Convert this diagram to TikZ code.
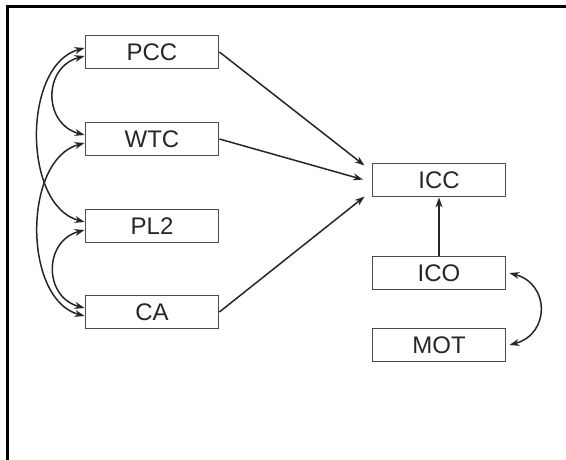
\documentclass[tikz,border=0pt]{standalone}
\usepackage{fontspec}
\setmainfont{Liberation Sans}
\usetikzlibrary{arrows.meta}

\begin{document}
\begin{tikzpicture}[x=1pt, y=-1pt, line width=1.5pt, >={Stealth[length=10pt,width=7pt]},
        every node/.append style={font=\fontsize{24}{28}\selectfont, text=black!85}]
      \tikzstyle{var} = [draw=black!70, line width=1.8pt, minimum width=133pt, minimum height=33pt, inner sep=0pt]
      \tikzstyle{link} = [draw=black!85, <->]
      \useasboundingbox (0,0) rectangle (566,460);
      \draw[line width=3pt] (7,460) -- (7,7) -- (566,7);
      % left column
      \node (PCC) [var] at (152,52) {PCC};
      \node (WTC) [var] at (152,139) {WTC};
      \node (PL2) [var] at (152,226) {PL2};
      \node (CA) [var] at (152,312) {CA};
      % right column
      \node (ICC) [var] at (439,180) {ICC};
      \node (ICO) [var] at (439,273) {ICO};
      \node (MOT) [var] at (439,345) {MOT};
      \draw[->, draw=black!85, shorten >=9pt] (PCC.east) -- ([yshift=9pt]ICC.west);
      \draw[->, draw=black!85, shorten >=9pt] (WTC.east) -- ([yshift=-2pt]ICC.west);
      \draw[->, draw=black!85, shorten >=9pt] (CA.east) -- ([yshift=-11pt]ICC.west);
      \draw[->, draw=black!85] (ICO.north) -- (ICC.south);
      \draw[link] ([yshift=-4pt]PCC.west) to[out=195, in=165, looseness=1.4] ([yshift=4pt]WTC.west);
      \draw[link] ([yshift=-4pt]PL2.west) to[out=195, in=165, looseness=1.4] ([yshift=4pt]CA.west);
      \draw[link] ([yshift=4pt]PCC.west) to[out=195, in=165, looseness=0.95] ([yshift=4pt]PL2.west);
      \draw[link] ([yshift=-4pt]WTC.west) to[out=195, in=165, looseness=0.95] ([yshift=-4pt]CA.west);
      \draw[link] ([xshift=3pt]ICO.east) to[out=-15, in=15, looseness=1.5] ([xshift=3pt]MOT.east);
    \end{tikzpicture}
\end{document}
